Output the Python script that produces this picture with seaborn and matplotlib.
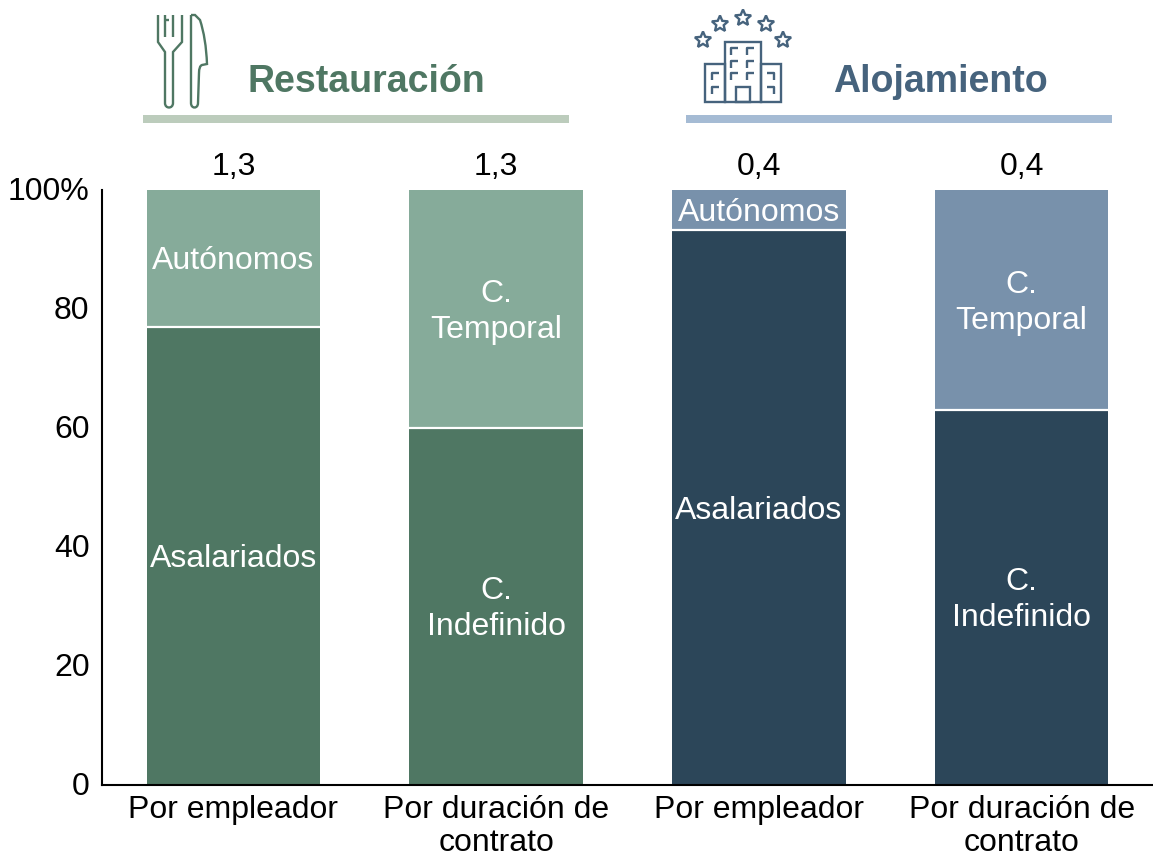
import pandas as pd
import numpy as np
import matplotlib
matplotlib.use('Agg')
import matplotlib.pyplot as plt
import seaborn as sns
from matplotlib.patches import Polygon, PathPatch, Rectangle
from matplotlib.path import Path
from matplotlib.transforms import ScaledTranslation

# Data
groups = ['rest_emp', 'rest_dur', 'aloj_emp', 'aloj_dur']
tick_labels = ['Por empleador', 'Por duración de\ncontrato', 'Por empleador', 'Por duración de\ncontrato']
lower_values = [77, 60, 93.2, 63]
upper_values = [23, 40, 6.8, 37]
lower_names = ['Asalariados', 'C.\nIndefinido', 'Asalariados', 'C.\nIndefinido']
upper_names = ['Autónomos', 'C.\nTemporal', 'Autónomos', 'C.\nTemporal']
top_labels = ['1,3', '1,3', '0,4', '0,4']
y_ticks = [0, 20, 40, 60, 80, 100]
y_tick_labels = ['0', '20', '40', '60', '80', '100%']

dark_colors = ['#4F7763', '#4F7763', '#2C4659', '#2C4659']
light_colors = ['#86AB9A', '#86AB9A', '#7891AB', '#7891AB']
green = '#4F7763'
blue = '#46637D'

sns.set_theme(style='white')
plt.rcParams['font.family'] = ['Liberation Sans', 'DejaVu Sans']

W, H = 1153, 857
fig = plt.figure(figsize=(W / 100, H / 100), dpi=100)
ax = fig.add_axes([102 / W, 1 - 785 / H, (W - 102) / W, (785 - 190) / H])

df = pd.DataFrame({'group': groups, 'lower': lower_values, 'upper': upper_values})
df['total'] = df['lower'] + df['upper']

# Stack by drawing the full height first and the lower part on top of it
sns.barplot(data=df, x='group', y='total', hue='group', palette=light_colors,
            width=0.66, legend=False, saturation=1, linewidth=0, ax=ax)
sns.barplot(data=df, x='group', y='lower', hue='group', palette=dark_colors,
            width=0.66, legend=False, saturation=1, linewidth=0, ax=ax)

for i, row in df.iterrows():
    ax.hlines(row['lower'], i - 0.33, i + 0.33, color='white', lw=1.6, zorder=5)
    ax.annotate(lower_names[i], (i, row['lower'] / 2), xytext=(0, -2), textcoords='offset points',
                color='white', fontsize=23, ha='center', va='center', linespacing=1.25, zorder=6)
    ax.annotate(upper_names[i], (i, row['lower'] + row['upper'] / 2), xytext=(0, -2), textcoords='offset points',
                color='white', fontsize=23, ha='center', va='center', linespacing=1.25, zorder=6)
    ax.annotate(top_labels[i], (i, row['total']), xytext=(0, 5.5), textcoords='offset points',
                ha='center', va='bottom', fontsize=23, color='black', annotation_clip=False)

ax.set_xlim(-0.5, 3.5)
ax.set_ylim(0, 100)
ax.set_xlabel('')
ax.set_ylabel('')
ax.set_xticks(range(4))
ax.set_xticklabels(tick_labels, fontsize=23, linespacing=1.1)
ax.set_yticks(y_ticks)
ax.set_yticklabels(y_tick_labels, fontsize=23)
ax.tick_params(axis='y', left=False, length=0, pad=9, labelcolor='black')
ax.tick_params(axis='x', bottom=False, length=0, pad=7.5, labelcolor='black')
# nudge the y labels up a little
nudge = ScaledTranslation(0, 1.5 / 100, fig.dpi_scale_trans)
for lab in ax.get_yticklabels():
    lab.set_transform(lab.get_transform() + nudge)
for s in ['top', 'right']:
    ax.spines[s].set_visible(False)
for s in ['left', 'bottom']:
    ax.spines[s].set_color('black')
    ax.spines[s].set_linewidth(1.5)

# Header drawn on an overlay in pixel coordinates
ov = fig.add_axes([0, 0, 1, 1], zorder=10)
ov.set_xlim(0, W)
ov.set_ylim(H, 0)
ov.axis('off')

ov.add_patch(Rectangle((143, 115), 426, 8, color='#BCCCBC', lw=0))
ov.add_patch(Rectangle((686, 115), 426, 8, color='#A5BBD4', lw=0))
ov.text(366, 82, 'Restauración', color=green, fontsize=27, fontweight='bold', ha='center', va='center')
ov.text(940, 82, 'Alojamiento', color=blue, fontsize=27, fontweight='bold', ha='center', va='center')


def stroke(points, color, lw=1.7):
    xs, ys = zip(*points)
    ov.plot(xs, ys, color=color, lw=lw, solid_capstyle='butt', solid_joinstyle='round')


# Fork
fork_pts = [(158, 15), (158, 42), (165, 52), (165, 103), (165, 109), (173, 109), (173, 103),
            (173, 52), (182, 42), (182, 15)]
fork_codes = [Path.MOVETO, Path.LINETO, Path.LINETO, Path.LINETO, Path.CURVE4, Path.CURVE4, Path.CURVE4,
              Path.LINETO, Path.LINETO, Path.LINETO]
ov.add_patch(PathPatch(Path(fork_pts, fork_codes), fill=False, edgecolor=green, lw=1.7))
stroke([(165, 15), (165, 37)], green)
stroke([(173, 15), (173, 37)], green)
stroke([(165, 20), (169, 20)], green)

# Knife
knife_pts = [(191, 15), (191, 103), (191, 109), (198, 109), (198, 103), (199, 73), (199, 66), (202, 65),
             (207, 64), (206, 38), (200, 20), (195, 15), (191, 15)]
knife_codes = [Path.MOVETO, Path.LINETO, Path.CURVE4, Path.CURVE4, Path.CURVE4, Path.LINETO, Path.CURVE3, Path.CURVE3,
               Path.LINETO, Path.CURVE3, Path.CURVE3, Path.LINETO, Path.LINETO]
ov.add_patch(PathPatch(Path(knife_pts, knife_codes), fill=False, edgecolor=green, lw=1.7))

# Stars
for cx, cy in [(703, 40), (720, 24), (743, 18), (766, 24), (783, 40)]:
    ang = np.deg2rad(np.arange(10) * 36 - 90)
    rad = np.where(np.arange(10) % 2 == 0, 8.5, 3.9)
    ov.add_patch(Polygon(np.column_stack([cx + rad * np.cos(ang), cy + rad * np.sin(ang)]),
                         fill=False, edgecolor=blue, lw=1.7))

# Hotel
for x0, y0, x1, y1 in [(724.5, 42, 761, 102), (705, 64, 724.5, 102), (761, 64, 781, 102), (736, 87, 750, 102)]:
    ov.add_patch(Rectangle((x0, y0), x1 - x0, y1 - y0, fill=False, edgecolor=blue, lw=1.7))
for wx in [731, 747]:
    for wy in [48, 61, 73]:
        stroke([(wx, wy + 7), (wx, wy), (wx + 7, wy)], blue)
for wy in [73, 87]:
    stroke([(712, wy + 7), (712, wy), (719, wy)], blue)
    stroke([(774, wy + 7), (774, wy), (767, wy)], blue)

fig.savefig('out.png', dpi=100)
plt.close(fig)
